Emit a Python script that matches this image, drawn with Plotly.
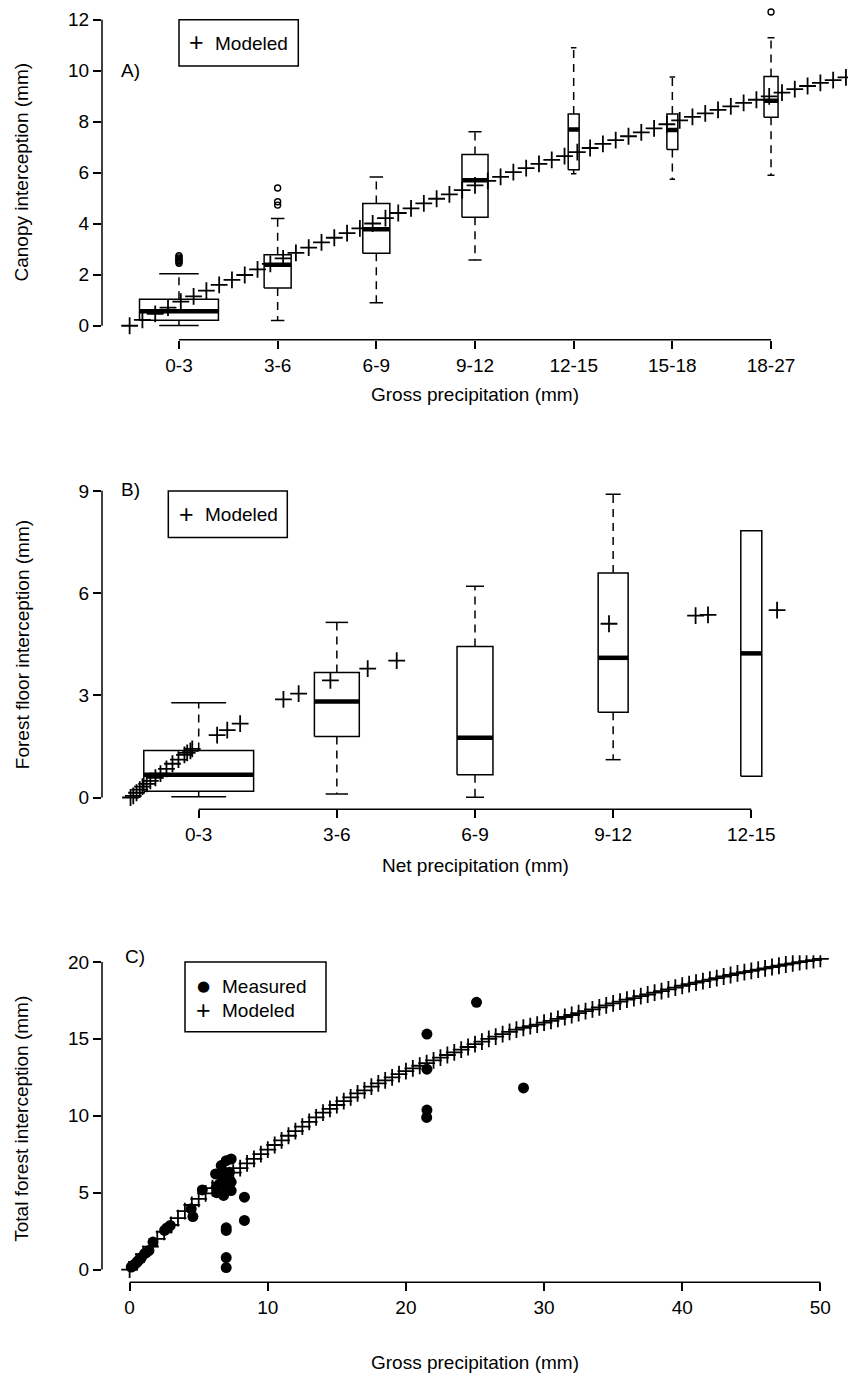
import plotly.graph_objects as go

W, H = 850, 1376
FONT = "Liberation Sans, Arial, Helvetica, sans-serif"
FS = 19

# ---------------- Panel A data ----------------
catsA = ["0-3", "3-6", "6-9", "9-12", "12-15", "15-18", "18-27"]
lowA = [0.01, 0.21, 0.90, 2.58, 5.96, 5.74, 5.90]
q1A = [0.22, 1.48, 2.84, 4.25, 6.12, 6.91, 8.17]
medA = [0.57, 2.39, 3.78, 5.70, 7.69, 7.67, 8.82]
q3A = [1.04, 2.78, 4.79, 6.71, 8.30, 8.30, 9.77]
upA = [2.04, 4.21, 5.83, 7.61, 10.90, 9.75, 11.29]
outA_cat = ["0-3", "0-3", "0-3", "0-3", "0-3", "0-3", "0-3", "3-6", "3-6", "3-6", "18-27"]
outA_val = [2.45, 2.50, 2.55, 2.60, 2.65, 2.70, 2.75, 4.73, 4.86, 5.40, 12.30]
# modeled canopy interception vs gross precipitation (mm)
modA_P = [0, 0.5, 1, 1.5, 2, 2.5, 3, 3.5, 4, 4.5, 5, 5.5, 6, 6.5, 7, 7.5, 8, 8.5, 9, 9.5,
          10, 10.5, 11, 11.5, 12, 12.5, 13, 13.5, 14, 14.5, 15, 15.5, 16, 16.5, 17, 17.5,
          18, 18.5, 19, 19.5, 20, 20.5, 21, 21.5, 22, 22.5, 23, 23.5, 24, 24.5, 25, 25.5,
          26, 26.5, 27, 27.5, 28]
modA_I = [0.00, 0.23, 0.47, 0.71, 0.95, 1.15, 1.38, 1.60, 1.80, 1.99, 2.21, 2.43, 2.64,
          2.86, 3.06, 3.27, 3.45, 3.63, 3.82, 4.01, 4.22, 4.42, 4.60, 4.80, 4.98, 5.15,
          5.32, 5.50, 5.68, 5.84, 6.02, 6.18, 6.35, 6.50, 6.65, 6.81, 6.97, 7.13, 7.28,
          7.43, 7.58, 7.74, 7.90, 8.05, 8.19, 8.33, 8.46, 8.60, 8.74, 8.86, 8.99, 9.14,
          9.28, 9.40, 9.52, 9.63, 9.74]
yticksA = [0, 2, 4, 6, 8, 10, 12]

# ---------------- Panel B data ----------------
catsB = ["0-3", "3-6", "6-9", "9-12", "12-15"]
lowB = [0.02, 0.10, 0.01, 1.11, 0.62]
q1B = [0.18, 1.79, 0.67, 2.50, 0.62]
medB = [0.67, 2.82, 1.75, 4.10, 4.23]
q3B = [1.38, 3.67, 4.43, 6.59, 7.83]
upB = [2.78, 5.14, 6.20, 8.90, 7.83]
# modeled forest floor interception vs net precipitation (mm)
modB_P = [0.02, 0.08, 0.15, 0.22, 0.28, 0.37, 0.45, 0.56, 0.67, 0.80, 0.93, 1.06, 1.19,
          1.25, 1.32, 1.36, 1.90, 2.12, 2.40, 3.34, 3.67, 4.36, 5.17, 5.80, 10.41, 12.29,
          12.56, 14.06]
modB_I = [0.00, 0.05, 0.14, 0.23, 0.32, 0.40, 0.49, 0.58, 0.70, 0.84, 0.99, 1.11, 1.25,
          1.31, 1.37, 1.43, 1.83, 1.98, 2.17, 2.88, 3.05, 3.44, 3.78, 4.02, 5.10, 5.34,
          5.36, 5.50]
yticksB = [0, 3, 6, 9]

# ---------------- Panel C data ----------------
measC_P = [0.12, 0.25, 0.36, 0.50, 0.60, 0.75, 0.85, 1.08, 1.20, 1.40, 1.69, 2.53, 2.65,
           2.77, 2.94, 4.46, 4.58, 5.26, 6.22, 6.27, 6.51, 6.30, 6.63, 6.75, 6.99, 7.35,
           7.23, 7.35, 6.80, 7.35, 7.00, 6.90, 8.31, 8.31, 6.99, 6.99, 6.99, 6.99, 21.52,
           21.52, 21.52, 21.50, 25.11, 28.51]
measC_I = [0.17, 0.25, 0.34, 0.45, 0.56, 0.68, 0.78, 1.04, 1.10, 1.25, 1.79, 2.55, 2.65,
           2.72, 2.87, 3.95, 3.45, 5.18, 6.22, 5.35, 5.57, 5.00, 6.76, 6.40, 7.08, 7.19,
           6.33, 5.68, 4.82, 5.14, 5.30, 6.00, 4.71, 3.20, 2.55, 2.72, 0.78, 0.13, 15.31,
           13.03, 10.37, 9.89, 17.37, 11.81]
modC_P = [0, 0.5, 1, 1.5, 2, 2.5, 3, 3.5, 4, 4.5, 5, 5.5, 6, 6.5, 7, 7.5, 8, 8.5, 9, 9.5,
          10, 10.5, 11, 11.5, 12, 12.5, 13, 13.5, 14, 14.5, 15, 15.5, 16, 16.5, 17, 17.5,
          18, 18.5, 19, 19.5, 20, 20.5, 21, 21.5, 22, 22.5, 23, 23.5, 24, 24.5, 25, 25.5,
          26, 26.5, 27, 27.5, 28, 28.5, 29, 29.5, 30, 30.5, 31, 31.5, 32, 32.5, 33, 33.5,
          34, 34.5, 35, 35.5, 36, 36.5, 37, 37.5, 38, 38.5, 39, 39.5, 40, 40.5, 41, 41.5,
          42, 42.5, 43, 43.5, 44, 44.5, 45, 45.5, 46, 46.5, 47, 47.5, 48, 48.5, 49, 49.5, 50]
modC_I = [0.00, 0.50, 1.00, 1.50, 2.00, 2.45, 2.90, 3.35, 3.80, 4.20, 4.60, 4.95, 5.30,
          5.65, 5.95, 6.30, 6.60, 6.90, 7.20, 7.50, 7.80, 8.10, 8.40, 8.70, 9.00, 9.30,
          9.60, 9.90, 10.20, 10.45, 10.70, 10.95, 11.20, 11.45, 11.65, 11.90, 12.10, 12.30,
          12.50, 12.70, 12.90, 13.08, 13.25, 13.42, 13.60, 13.78, 13.95, 14.12, 14.30,
          14.47, 14.65, 14.82, 15.00, 15.15, 15.30, 15.45, 15.60, 15.72, 15.82, 15.93,
          16.05, 16.17, 16.30, 16.42, 16.55, 16.67, 16.80, 16.92, 17.05, 17.17, 17.30,
          17.42, 17.55, 17.65, 17.77, 17.88, 18.00, 18.10, 18.22, 18.33, 18.45, 18.55,
          18.65, 18.75, 18.85, 18.95, 19.05, 19.15, 19.25, 19.33, 19.42, 19.50, 19.58,
          19.67, 19.75, 19.83, 19.90, 19.98, 20.05, 20.12, 20.20]
xticksC = [0, 10, 20, 30, 40, 50]
yticksC = [0, 5, 10, 15, 20]

# ---------------- style (relative box widths, like R varwidth) ----------------
widthA = [0.80, 0.274, 0.274, 0.264, 0.111, 0.111, 0.142]
widthB = [0.795, 0.325, 0.26, 0.217, 0.152]

fig = go.Figure()
BLACK = "black"
CROSS = dict(symbol="cross-thin", size=12, line=dict(width=1.8, color=BLACK), color=BLACK)


def add_boxes(xa, ya, cats, low, q1, med, q3, up, widths):
    rx, ry, mx, my, wx, wy, cx, cy = [], [], [], [], [], [], [], []
    for i, c in enumerate(cats):
        p = i + 1
        h = widths[i] / 2
        rx += [p - h, p + h, p + h, p - h, p - h, None]
        ry += [q1[i], q1[i], q3[i], q3[i], q1[i], None]
        mx += [p - h, p + h, None]
        my += [med[i], med[i], None]
        wx += [p, p, None, p, p, None]
        wy += [q3[i], up[i], None, q1[i], low[i], None]
        cx += [p - h / 2, p + h / 2, None, p - h / 2, p + h / 2, None]
        cy += [up[i], up[i], None, low[i], low[i], None]
    common = dict(xaxis=xa, yaxis=ya, mode="lines", showlegend=False, hoverinfo="skip")
    fig.add_trace(go.Scatter(x=wx, y=wy, line=dict(color=BLACK, width=1.5, dash="8px,6px"), **common))
    fig.add_trace(go.Scatter(x=cx, y=cy, line=dict(color=BLACK, width=1.5), **common))
    fig.add_trace(go.Scatter(x=rx, y=ry, fill="toself", fillcolor="white",
                             line=dict(color=BLACK, width=1.5), **common))
    fig.add_trace(go.Scatter(x=mx, y=my, line=dict(color=BLACK, width=4.5), **common))


# Panel A
add_boxes("x", "y", catsA, lowA, q1A, medA, q3A, upA, widthA)
fig.add_trace(go.Scatter(x=[catsA.index(c) + 1 for c in outA_cat], y=outA_val, mode="markers",
                         xaxis="x", yaxis="y", showlegend=False,
                         marker=dict(symbol="circle-open", size=6, color=BLACK, line=dict(width=1.4))))
fig.add_trace(go.Scatter(x=modA_P, y=modA_I, mode="markers", xaxis="x4", yaxis="y",
                         name="Modeled", showlegend=False, marker=CROSS))

# Panel B
add_boxes("x2", "y2", catsB, lowB, q1B, medB, q3B, upB, widthB)
fig.add_trace(go.Scatter(x=modB_P, y=modB_I, mode="markers", xaxis="x5", yaxis="y2",
                         name="Modeled", showlegend=False, marker=CROSS))

# Panel C
fig.add_trace(go.Scatter(x=modC_P, y=modC_I, mode="markers", xaxis="x3", yaxis="y3",
                         name="Modeled", showlegend=False, marker=CROSS))
fig.add_trace(go.Scatter(x=measC_P, y=measC_I, mode="markers", xaxis="x3", yaxis="y3",
                         name="Measured", showlegend=False,
                         marker=dict(symbol="circle", size=11, color=BLACK)))


def fx(px):
    return px / W


def fy(py):
    return 1 - py / H


XDOM = [fx(102), fx(848)]
tickfont = dict(family=FONT, size=FS, color=BLACK)
axcommon = dict(showgrid=False, zeroline=False, showline=False, ticks="outside", ticklen=8,
                tickwidth=1.5, tickcolor=BLACK, tickfont=tickfont)

# pixel geometry of panels: (top, bottom)
panA = (1, 336.7)
panB = (478, 807.7)
panC = (954, 1282)

fig.update_layout(
    width=W, height=H, margin=dict(l=0, r=0, t=0, b=0),
    paper_bgcolor="white", plot_bgcolor="white", showlegend=False,
    font=dict(family=FONT, size=FS, color=BLACK),
    xaxis=dict(domain=XDOM, range=[0.22, 7.78], tickvals=list(range(1, len(catsA) + 1)),
               ticktext=catsA, anchor="y", **axcommon),
    yaxis=dict(domain=[fy(panA[1]), fy(panA[0])], range=[-0.547, 12.575], tickvals=yticksA,
               anchor="x", **axcommon),
    xaxis4=dict(overlaying="x", anchor="y", range=[-1.08, 28.08], visible=False),
    xaxis2=dict(domain=XDOM, range=[0.3, 5.7], tickvals=list(range(1, len(catsB) + 1)),
                ticktext=catsB, anchor="y2", **axcommon),
    yaxis2=dict(domain=[fy(panB[1]), fy(panB[0])], range=[-0.348, 9.301], tickvals=yticksB,
                anchor="x2", **axcommon),
    xaxis5=dict(overlaying="x2", anchor="y2", range=[-0.6, 15.6], visible=False),
    xaxis3=dict(domain=XDOM, range=[-2, 52], tickvals=xticksC, anchor="y3", **axcommon),
    yaxis3=dict(domain=[fy(panC[1]), fy(panC[0])], range=[-0.823, 20.434], tickvals=yticksC,
                anchor="x3", **axcommon),
)

shapes = []
LINE = dict(color=BLACK, width=1.5)
# R-style axis lines spanning only the tick range
for xa, ya, xt, yt in [("x", "y", [1, len(catsA)], yticksA),
                       ("x2", "y2", [1, len(catsB)], yticksB),
                       ("x3", "y3", [xticksC[0], xticksC[-1]], yticksC)]:
    shapes.append(dict(type="line", xref=xa, yref=ya + " domain", x0=xt[0], x1=xt[-1], y0=0, y1=0, line=LINE))
    shapes.append(dict(type="line", xref=xa + " domain", yref=ya, x0=0, x1=0, y0=yt[0], y1=yt[-1], line=LINE))

# legend boxes
for (x0, y0, x1, y1) in [(179, 15.7, 298.3, 62.3), (168.3, 488.3, 287.3, 535), (185, 960.7, 326, 1030.7)]:
    shapes.append(dict(type="rect", xref="paper", yref="paper", x0=fx(x0), x1=fx(x1),
                       y0=fy(y1), y1=fy(y0), line=LINE, fillcolor="rgba(0,0,0,0)"))

ann = []


def text(s, x, y, xanchor="left", size=FS, family=FONT, angle=0):
    ann.append(dict(text=s, x=fx(x), y=fy(y), xref="paper", yref="paper", showarrow=False,
                    xanchor=xanchor, yanchor="middle", textangle=angle,
                    font=dict(family=family, size=size, color=BLACK)))


# panel labels
text("A)", 119, 66.7)
text("B)", 119, 487.3)
text("C)", 123, 955)
# legends
text("+", 196.7, 38.5, xanchor="center", size=25)
text("Modeled", 213, 39.3)
text("+", 186, 511.5, xanchor="center", size=25)
text("Modeled", 202.5, 512.3)
text("\u25cf", 203.3, 985, xanchor="center", size=15, family="DejaVu Sans")
text("Measured", 219.5, 985)
text("+", 203.3, 1008.5, xanchor="center", size=25)
text("Modeled", 219.5, 1009.3)
# axis titles
text("Gross precipitation (mm)", 475, 392, xanchor="center")
text("Net precipitation (mm)", 475, 864, xanchor="center")
text("Gross precipitation (mm)", 475, 1362, xanchor="center")
text("Canopy interception (mm)", 22, 169, xanchor="center", angle=-90)
text("Forest floor interception (mm)", 22, 643, xanchor="center", angle=-90)
text("Total forest interception (mm)", 22, 1118, xanchor="center", angle=-90)

fig.update_layout(shapes=shapes, annotations=ann)
fig.write_html("out.html")
